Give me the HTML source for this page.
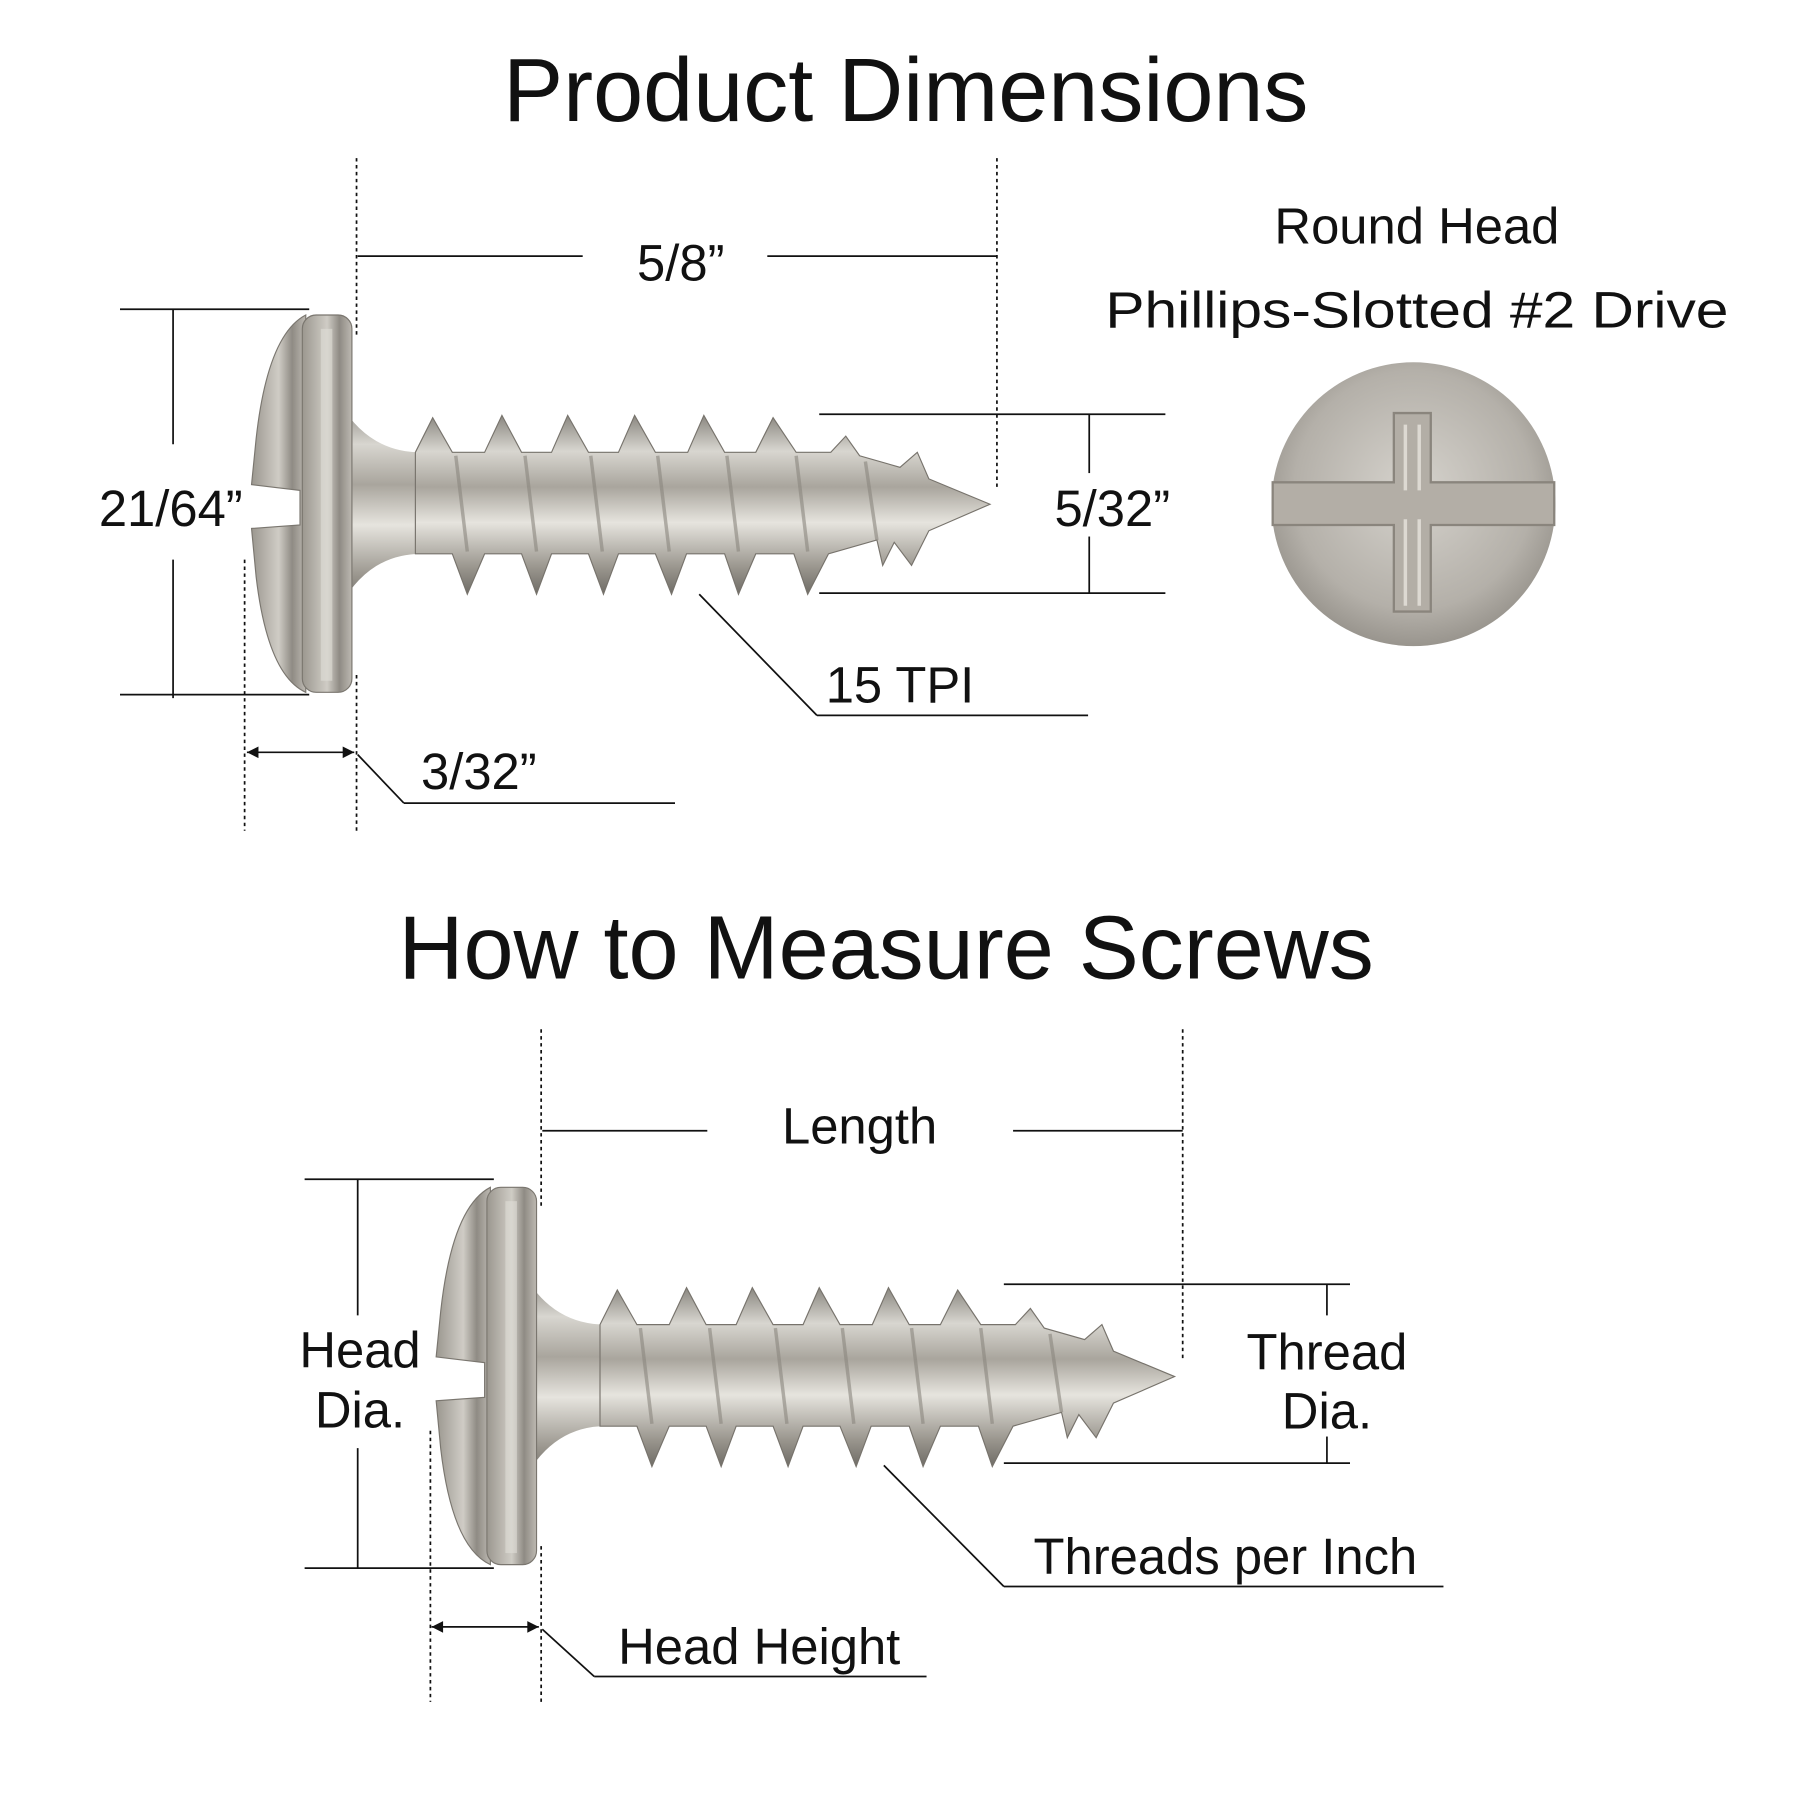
<!DOCTYPE html>
<html><head><meta charset="utf-8"><style>
html,body{margin:0;padding:0;background:#fff;width:1800px;height:1800px;overflow:hidden}
svg{display:block}
text{font-family:"Liberation Sans",sans-serif;fill:#111}
</style></head><body>
<svg width="1800" height="1800" viewBox="0 0 1560 1560" xmlns="http://www.w3.org/2000/svg">
<defs>
<linearGradient id="sh" x1="0" y1="0" x2="0" y2="1">
<stop offset="0" stop-color="#8a8780"/><stop offset="0.2" stop-color="#d8d6d0"/><stop offset="0.4" stop-color="#a9a59d"/><stop offset="0.6" stop-color="#e6e4de"/><stop offset="0.85" stop-color="#9a968e"/><stop offset="1" stop-color="#6f6c66"/>
</linearGradient>
<linearGradient id="hd" x1="0" y1="0" x2="1" y2="0">
<stop offset="0" stop-color="#9b978f"/><stop offset="0.5" stop-color="#cfccc5"/><stop offset="0.75" stop-color="#8f8b84"/><stop offset="1" stop-color="#bdb9b2"/>
</linearGradient>
<radialGradient id="rh" cx="0.5" cy="0.45" r="0.6">
<stop offset="0" stop-color="#d6d3cd"/><stop offset="0.7" stop-color="#b4b0a9"/><stop offset="1" stop-color="#8e8a83"/>
</radialGradient>
<g id="screw">
<path d="M295,350 Q320,392 365,392 L365,480 Q320,480 295,525 Z" fill="url(#sh)"/>
<path d="M360,392 L375,362 L392,392 L420,392 L435,360 L452,392 L478,392 L492,360 L510,392 L536,392 L550,360 L568,392 L596,392 L610,360 L628,392 L655,392 L670,362 L690,392 L720,392 L733,378 L745,395 L780,405 L795,392 L805,415 L858,437 L805,460 L790,490 L775,470 L765,490 L760,468 L718,480 L700,515 L688,480 L655,480 L640,515 L628,480 L595,480 L582,515 L568,480 L536,480 L523,515 L510,480 L478,480 L465,515 L452,480 L420,480 L405,515 L392,480 L360,480 Z" fill="url(#sh)" stroke="#77736c" stroke-width="1"/>
<g stroke="#8b877f" stroke-width="3" opacity="0.6">
<line x1="395" y1="395" x2="405" y2="478"/><line x1="455" y1="395" x2="465" y2="478"/><line x1="512" y1="395" x2="522" y2="478"/><line x1="570" y1="395" x2="580" y2="478"/><line x1="630" y1="395" x2="640" y2="478"/><line x1="690" y1="395" x2="700" y2="478"/><line x1="750" y1="400" x2="760" y2="468"/>
</g>
<path d="M265,273 Q232,290 222,380 L218,420 L260,425 L260,455 L218,458 L222,500 Q232,585 265,600 Z" fill="url(#hd)" stroke="#7a766f" stroke-width="1"/>
<rect x="262" y="273" width="43" height="327" rx="12" fill="url(#hd)" stroke="#7a766f" stroke-width="1"/>
<rect x="278" y="285" width="10" height="305" fill="#e0ddd7" opacity="0.6"/>
</g>
</defs>

<text x="785" y="105" font-size="78" text-anchor="middle">Product Dimensions</text>
<text x="768" y="848" font-size="78" text-anchor="middle">How to Measure Screws</text>

<use href="#screw"/>
<g stroke="#111" stroke-width="1.5" fill="none">
<line x1="309" y1="137" x2="309" y2="290" stroke-dasharray="3,3"/>
<line x1="864" y1="137" x2="864" y2="425" stroke-dasharray="3,3"/>
<line x1="212" y1="485" x2="212" y2="720" stroke-dasharray="3,3"/>
<line x1="309" y1="585" x2="309" y2="720" stroke-dasharray="3,3"/>
<line x1="310" y1="222" x2="505" y2="222"/><line x1="665" y1="222" x2="864" y2="222"/>
<line x1="104" y1="268" x2="268" y2="268"/><line x1="104" y1="602" x2="268" y2="602"/>
<line x1="150" y1="268" x2="150" y2="385"/><line x1="150" y1="485" x2="150" y2="605"/>
<line x1="710" y1="359" x2="1010" y2="359"/><line x1="710" y1="514" x2="1010" y2="514"/>
<line x1="944" y1="359" x2="944" y2="410"/><line x1="944" y1="465" x2="944" y2="514"/>
<line x1="606" y1="515" x2="708" y2="620"/><line x1="708" y1="620" x2="943" y2="620"/>
<line x1="214" y1="652" x2="307" y2="652"/>
<line x1="310" y1="654" x2="350" y2="696"/><line x1="350" y1="696" x2="585" y2="696"/>
</g>
<path d="M214,652 l10,-5 v10 Z M307,652 l-10,-5 v10 Z" fill="#111"/>
<text x="590" y="243" font-size="44" text-anchor="middle">5/8”</text>
<text x="148" y="456" font-size="44" text-anchor="middle">21/64”</text>
<text x="964" y="456" font-size="44" text-anchor="middle">5/32”</text>
<text x="780" y="609" font-size="44" text-anchor="middle">15 TPI</text>
<text x="415" y="684" font-size="44" text-anchor="middle">3/32”</text>
<text x="1228" y="211" font-size="44" text-anchor="middle">Round Head</text>
<text x="1228" y="284" font-size="44" text-anchor="middle" textLength="540" lengthAdjust="spacingAndGlyphs">Phillips-Slotted #2 Drive</text>

<circle cx="1225" cy="437" r="123" fill="url(#rh)"/>
<path d="M1103,418 H1208 V358 H1240 V418 H1347 V455 H1240 V530 H1208 V455 H1103 Z" fill="#b3aea6" stroke="#8a857d" stroke-width="2"/>
<path d="M1218,368 V425 M1230,368 V425 M1218,450 V525 M1230,450 V525" stroke="#ddd9d2" stroke-width="3"/>

<use href="#screw" transform="translate(160,756)"/>
<g stroke="#111" stroke-width="1.5" fill="none">
<line x1="469" y1="892" x2="469" y2="1045" stroke-dasharray="3,3"/>
<line x1="1025" y1="892" x2="1025" y2="1180" stroke-dasharray="3,3"/>
<line x1="373" y1="1240" x2="373" y2="1475" stroke-dasharray="3,3"/>
<line x1="469" y1="1340" x2="469" y2="1475" stroke-dasharray="3,3"/>
<line x1="470" y1="980" x2="613" y2="980"/><line x1="878" y1="980" x2="1025" y2="980"/>
<line x1="264" y1="1022" x2="428" y2="1022"/><line x1="264" y1="1359" x2="428" y2="1359"/>
<line x1="310" y1="1022" x2="310" y2="1140"/><line x1="310" y1="1255" x2="310" y2="1359"/>
<line x1="870" y1="1113" x2="1170" y2="1113"/><line x1="870" y1="1268" x2="1170" y2="1268"/>
<line x1="1150" y1="1113" x2="1150" y2="1140"/><line x1="1150" y1="1245" x2="1150" y2="1268"/>
<line x1="766" y1="1270" x2="870" y2="1375"/><line x1="870" y1="1375" x2="1251" y2="1375"/>
<line x1="374" y1="1410" x2="467" y2="1410"/>
<line x1="470" y1="1412" x2="515" y2="1453"/><line x1="515" y1="1453" x2="803" y2="1453"/>
</g>
<path d="M374,1410 l10,-5 v10 Z M467,1410 l-10,-5 v10 Z" fill="#111"/>
<text x="745" y="991" font-size="44" text-anchor="middle">Length</text>
<text x="312" y="1185" font-size="44" text-anchor="middle">Head</text>
<text x="312" y="1237" font-size="44" text-anchor="middle">Dia.</text>
<text x="1150" y="1187" font-size="44" text-anchor="middle">Thread</text>
<text x="1150" y="1238" font-size="44" text-anchor="middle">Dia.</text>
<text x="1062" y="1364" font-size="44" text-anchor="middle">Threads per Inch</text>
<text x="658" y="1442" font-size="44" text-anchor="middle">Head Height</text>
</svg>
</body></html>
